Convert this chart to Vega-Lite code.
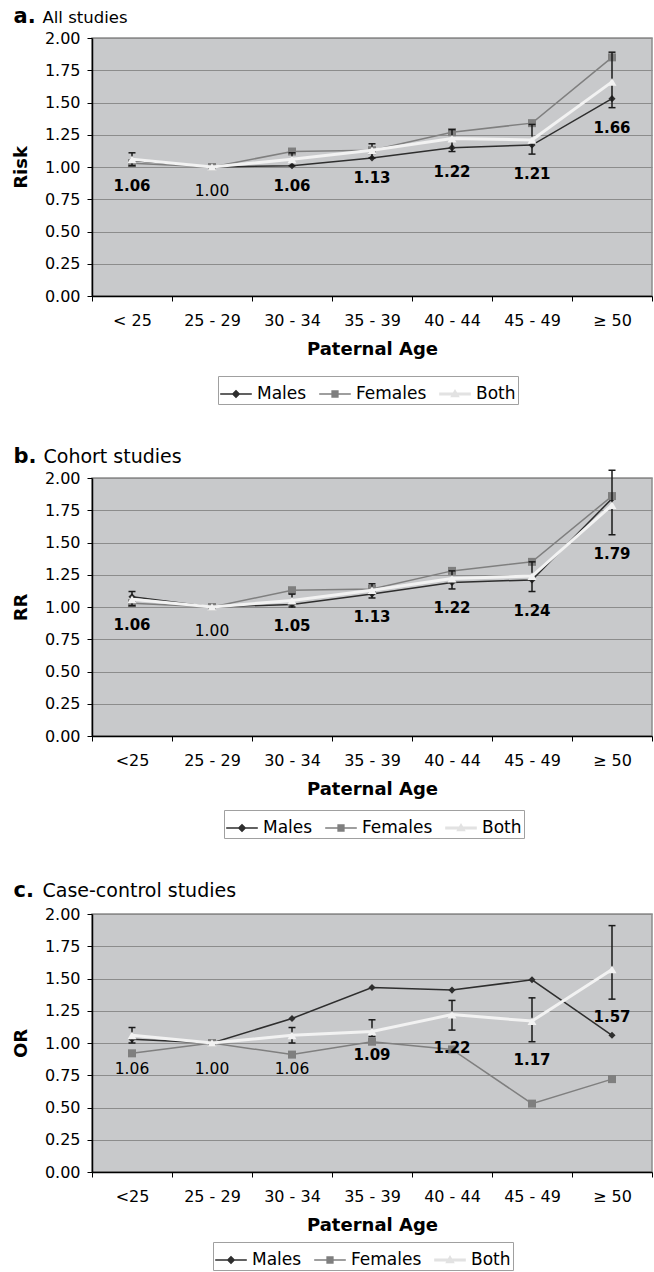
{
  "$schema": "https://vega.github.io/schema/vega-lite/v6.json",
  "padding": {"left": 11, "top": 4, "right": 2, "bottom": 0},
  "spacing": 38,
  "config": {
    "font": "DejaVu Sans",
    "view": {"fill": "#c8c9cb", "stroke": "#8c8c8c", "strokeWidth": 1.5},
    "axisX": {"tickBand": "extent", "labelAngle": 0, "labelFontSize": 16, "labelColor": "black", "tickColor": "black", "tickSize": 5, "domainColor": "black", "domainWidth": 1.5, "labelPadding": 11, "titleFontSize": 18, "titleFontWeight": "bold", "titleColor": "black", "titlePadding": 12, "grid": false},
    "axisY": {"grid": true, "gridColor": "#8c8c8c", "gridWidth": 1, "domainColor": "black", "domainWidth": 1.5, "tickColor": "black", "tickSize": 5, "labelFontSize": 16, "labelColor": "black", "labelPadding": 7, "titleFontSize": 18, "titleFontWeight": "bold", "titleColor": "black", "titlePadding": 14},
    "legend": {"direction": "horizontal", "orient": "none", "title": null, "strokeColor": "#a0a0a0", "fillColor": "white", "padding": 2, "labelFontSize": 17, "labelColor": "black", "symbolSize": 1000, "symbolStrokeWidth": 0, "symbolOpacity": 1, "columnPadding": 12, "labelOffset": 5}
  },
  "resolve": {"scale": {"shape": "independent", "fill": "independent"}, "legend": {"shape": "independent", "fill": "independent"}},
  "datasets": {
    "a": [
      {"age": "< 25", "series": "Males", "value": 1.05},
      {"age": "25 - 29", "series": "Males", "value": 1.00},
      {"age": "30 - 34", "series": "Males", "value": 1.01},
      {"age": "35 - 39", "series": "Males", "value": 1.07},
      {"age": "40 - 44", "series": "Males", "value": 1.15},
      {"age": "45 - 49", "series": "Males", "value": 1.17},
      {"age": "≥ 50", "series": "Males", "value": 1.53},
      {"age": "< 25", "series": "Females", "value": 1.03},
      {"age": "25 - 29", "series": "Females", "value": 1.00},
      {"age": "30 - 34", "series": "Females", "value": 1.12},
      {"age": "35 - 39", "series": "Females", "value": 1.13},
      {"age": "40 - 44", "series": "Females", "value": 1.27},
      {"age": "45 - 49", "series": "Females", "value": 1.34},
      {"age": "≥ 50", "series": "Females", "value": 1.85},
      {"age": "< 25", "series": "Both", "value": 1.06, "lo": 1.01, "hi": 1.11, "sig": true},
      {"age": "25 - 29", "series": "Both", "value": 1.00, "lo": 1.00, "hi": 1.00, "sig": false},
      {"age": "30 - 34", "series": "Both", "value": 1.06, "lo": 1.01, "hi": 1.11, "sig": true},
      {"age": "35 - 39", "series": "Both", "value": 1.13, "lo": 1.07, "hi": 1.18, "sig": true},
      {"age": "40 - 44", "series": "Both", "value": 1.22, "lo": 1.12, "hi": 1.29, "sig": true},
      {"age": "45 - 49", "series": "Both", "value": 1.21, "lo": 1.10, "hi": 1.33, "sig": true},
      {"age": "≥ 50", "series": "Both", "value": 1.66, "lo": 1.46, "hi": 1.89, "sig": true}
    ],
    "b": [
      {"age": "<25", "series": "Males", "value": 1.08},
      {"age": "25 - 29", "series": "Males", "value": 1.00},
      {"age": "30 - 34", "series": "Males", "value": 1.02},
      {"age": "35 - 39", "series": "Males", "value": 1.10},
      {"age": "40 - 44", "series": "Males", "value": 1.19},
      {"age": "45 - 49", "series": "Males", "value": 1.21},
      {"age": "≥ 50", "series": "Males", "value": 1.84},
      {"age": "<25", "series": "Females", "value": 1.03},
      {"age": "25 - 29", "series": "Females", "value": 1.00},
      {"age": "30 - 34", "series": "Females", "value": 1.13},
      {"age": "35 - 39", "series": "Females", "value": 1.14},
      {"age": "40 - 44", "series": "Females", "value": 1.28},
      {"age": "45 - 49", "series": "Females", "value": 1.35},
      {"age": "≥ 50", "series": "Females", "value": 1.86},
      {"age": "<25", "series": "Both", "value": 1.06, "lo": 1.01, "hi": 1.12, "sig": true},
      {"age": "25 - 29", "series": "Both", "value": 1.00, "lo": 1.00, "hi": 1.00, "sig": false},
      {"age": "30 - 34", "series": "Both", "value": 1.05, "lo": 1.00, "hi": 1.10, "sig": true},
      {"age": "35 - 39", "series": "Both", "value": 1.13, "lo": 1.07, "hi": 1.18, "sig": true},
      {"age": "40 - 44", "series": "Both", "value": 1.22, "lo": 1.14, "hi": 1.28, "sig": true},
      {"age": "45 - 49", "series": "Both", "value": 1.24, "lo": 1.12, "hi": 1.35, "sig": true},
      {"age": "≥ 50", "series": "Both", "value": 1.79, "lo": 1.56, "hi": 2.06, "sig": true}
    ],
    "c": [
      {"age": "<25", "series": "Males", "value": 1.03},
      {"age": "25 - 29", "series": "Males", "value": 1.00},
      {"age": "30 - 34", "series": "Males", "value": 1.19},
      {"age": "35 - 39", "series": "Males", "value": 1.43},
      {"age": "40 - 44", "series": "Males", "value": 1.41},
      {"age": "45 - 49", "series": "Males", "value": 1.49},
      {"age": "≥ 50", "series": "Males", "value": 1.06},
      {"age": "<25", "series": "Females", "value": 0.92},
      {"age": "25 - 29", "series": "Females", "value": 1.00},
      {"age": "30 - 34", "series": "Females", "value": 0.91},
      {"age": "35 - 39", "series": "Females", "value": 1.01},
      {"age": "40 - 44", "series": "Females", "value": 0.95},
      {"age": "45 - 49", "series": "Females", "value": 0.53},
      {"age": "≥ 50", "series": "Females", "value": 0.72},
      {"age": "<25", "series": "Both", "value": 1.06, "lo": 1.00, "hi": 1.12, "sig": false},
      {"age": "25 - 29", "series": "Both", "value": 1.00, "lo": 1.00, "hi": 1.00, "sig": false},
      {"age": "30 - 34", "series": "Both", "value": 1.06, "lo": 1.00, "hi": 1.12, "sig": false},
      {"age": "35 - 39", "series": "Both", "value": 1.09, "lo": 1.05, "hi": 1.18, "sig": true},
      {"age": "40 - 44", "series": "Both", "value": 1.22, "lo": 1.10, "hi": 1.33, "sig": true},
      {"age": "45 - 49", "series": "Both", "value": 1.17, "lo": 1.01, "hi": 1.35, "sig": true},
      {"age": "≥ 50", "series": "Both", "value": 1.57, "lo": 1.34, "hi": 1.91, "sig": true}
    ]
  },
  "vconcat": [
    {
      "width": 560, "height": 258,
      "data": {"name": "a"},
      "resolve": {"axis": {"x": "independent", "y": "independent"}},
      "layer": [
        {
          "encoding": {
            "x": {"field": "age", "type": "ordinal", "sort": ["< 25", "25 - 29", "30 - 34", "35 - 39", "40 - 44", "45 - 49", "≥ 50"], "scale": {"paddingInner": 0, "paddingOuter": 0}, "title": "Paternal Age"},
            "y": {"field": "value", "type": "quantitative", "scale": {"domain": [0, 2], "nice": false}, "title": "Risk", "axis": {"values": [0, 0.25, 0.5, 0.75, 1, 1.25, 1.5, 1.75, 2], "format": ".2f"}}
          },
          "layer": [
            {"transform": [{"filter": "datum.series == 'Males'"}], "mark": {"type": "line", "color": "#2e2e2e", "strokeWidth": 1.5, "point": {"shape": "diamond", "filled": true, "size": 50, "color": "#2e2e2e", "opacity": 1}}},
            {"transform": [{"filter": "datum.series == 'Females'"}], "mark": {"type": "line", "color": "#7f7f7f", "strokeWidth": 1.5, "point": {"shape": "square", "filled": true, "size": 64, "color": "#7f7f7f", "opacity": 1}}},
            {"transform": [{"filter": "datum.series == 'Both' && datum.hi > datum.lo"}], "mark": {"type": "rule", "color": "#1a1a1a", "strokeWidth": 1.5},
             "encoding": {"y": {"field": "lo", "type": "quantitative", "title": "Risk"}, "y2": {"field": "hi"}}},
            {"transform": [{"filter": "datum.series == 'Both' && datum.hi > datum.lo"}], "mark": {"type": "tick", "color": "#1a1a1a", "thickness": 1.5, "size": 7, "opacity": 1},
             "encoding": {"y": {"field": "lo", "type": "quantitative", "title": "Risk"}}},
            {"transform": [{"filter": "datum.series == 'Both' && datum.hi > datum.lo"}], "mark": {"type": "tick", "color": "#1a1a1a", "thickness": 1.5, "size": 7, "opacity": 1},
             "encoding": {"y": {"field": "hi", "type": "quantitative", "title": "Risk"}}},
            {"transform": [{"filter": "datum.series == 'Both'"}], "mark": {"type": "line", "color": "#f2f2f2", "strokeWidth": 3, "point": {"shape": "triangle-up", "filled": true, "size": 80, "color": "#f2f2f2", "opacity": 1}}},
            {"transform": [{"filter": "datum.series == 'Both' && datum.sig"}], "mark": {"type": "text", "dy": 20, "fontSize": 15, "fontWeight": "bold", "color": "black", "baseline": "middle"},
             "encoding": {"y": {"field": "lo", "type": "quantitative", "title": "Risk"}, "text": {"field": "value", "type": "quantitative", "format": ".2f"}}},
            {"transform": [{"filter": "datum.series == 'Both' && !datum.sig"}], "mark": {"type": "text", "dy": 24, "fontSize": 15.5, "color": "black", "baseline": "middle"},
             "encoding": {"y": {"field": "lo", "type": "quantitative", "title": "Risk"}, "text": {"field": "value", "type": "quantitative", "format": ".2f"}}}
          ]
        },
        {"transform": [{"filter": "datum.series == 'legend only'"}], "mark": {"type": "point", "filled": true, "opacity": 1},
         "encoding": {
           "x": {"field": "age", "type": "ordinal", "sort": ["< 25", "25 - 29", "30 - 34", "35 - 39", "40 - 44", "45 - 49", "≥ 50"], "axis": {"orient": "top", "title": "a.", "labels": false, "ticks": false, "domain": false, "grid": false, "titleFontSize": 21, "titleFontWeight": "bold", "titleX": -79, "titleY": -15.5, "titleAlign": "left", "titleBaseline": "alphabetic", "titleAnchor": "start"}},
           "y": {"field": "value", "type": "quantitative", "axis": {"orient": "right", "title": "All studies", "labels": false, "ticks": false, "domain": false, "grid": false, "titleAngle": 0, "titleFontSize": 16.5, "titleFontWeight": "normal", "titleX": -610, "titleY": -15.5, "titleAlign": "left", "titleBaseline": "alphabetic", "titleAnchor": "start"}},
           "shape": {"field": "series", "type": "nominal", "scale": {"domain": ["Males", "Females", "Both"], "range": ["M-1,-0.05H1V0.05H-1Z M0,-0.27L0.27,0L0,0.27L-0.27,0Z", "M-1,-0.05H1V0.05H-1Z M-0.23,-0.23H0.23V0.23H-0.23Z", "M-1,-0.1H1V0.1H-1Z M0,-0.32L0.3,0.2H-0.3Z"]}, "legend": {"legendX": 126, "legendY": 338}},
           "fill": {"field": "series", "type": "nominal", "scale": {"domain": ["Males", "Females", "Both"], "range": ["#2e2e2e", "#7f7f7f", "#e2e2e2"]}, "legend": {"legendX": 126, "legendY": 338}}
         }}
      ]
    },
    {
      "width": 560, "height": 258,
      "data": {"name": "b"},
      "resolve": {"axis": {"x": "independent", "y": "independent"}},
      "layer": [
        {
          "encoding": {
            "x": {"field": "age", "type": "ordinal", "sort": ["<25", "25 - 29", "30 - 34", "35 - 39", "40 - 44", "45 - 49", "≥ 50"], "scale": {"paddingInner": 0, "paddingOuter": 0}, "title": "Paternal Age"},
            "y": {"field": "value", "type": "quantitative", "scale": {"domain": [0, 2], "nice": false}, "title": "RR", "axis": {"values": [0, 0.25, 0.5, 0.75, 1, 1.25, 1.5, 1.75, 2], "format": ".2f"}}
          },
          "layer": [
            {"transform": [{"filter": "datum.series == 'Males'"}], "mark": {"type": "line", "color": "#2e2e2e", "strokeWidth": 1.5, "point": {"shape": "diamond", "filled": true, "size": 50, "color": "#2e2e2e", "opacity": 1}}},
            {"transform": [{"filter": "datum.series == 'Females'"}], "mark": {"type": "line", "color": "#7f7f7f", "strokeWidth": 1.5, "point": {"shape": "square", "filled": true, "size": 64, "color": "#7f7f7f", "opacity": 1}}},
            {"transform": [{"filter": "datum.series == 'Both' && datum.hi > datum.lo"}], "mark": {"type": "rule", "color": "#1a1a1a", "strokeWidth": 1.5},
             "encoding": {"y": {"field": "lo", "type": "quantitative", "title": "RR"}, "y2": {"field": "hi"}}},
            {"transform": [{"filter": "datum.series == 'Both' && datum.hi > datum.lo"}], "mark": {"type": "tick", "color": "#1a1a1a", "thickness": 1.5, "size": 7, "opacity": 1},
             "encoding": {"y": {"field": "lo", "type": "quantitative", "title": "RR"}}},
            {"transform": [{"filter": "datum.series == 'Both' && datum.hi > datum.lo"}], "mark": {"type": "tick", "color": "#1a1a1a", "thickness": 1.5, "size": 7, "opacity": 1},
             "encoding": {"y": {"field": "hi", "type": "quantitative", "title": "RR"}}},
            {"transform": [{"filter": "datum.series == 'Both'"}], "mark": {"type": "line", "color": "#f2f2f2", "strokeWidth": 3, "point": {"shape": "triangle-up", "filled": true, "size": 80, "color": "#f2f2f2", "opacity": 1}}},
            {"transform": [{"filter": "datum.series == 'Both' && datum.sig"}], "mark": {"type": "text", "dy": 19, "fontSize": 15, "fontWeight": "bold", "color": "black", "baseline": "middle"},
             "encoding": {"y": {"field": "lo", "type": "quantitative", "title": "RR"}, "text": {"field": "value", "type": "quantitative", "format": ".2f"}}},
            {"transform": [{"filter": "datum.series == 'Both' && !datum.sig"}], "mark": {"type": "text", "dy": 24, "fontSize": 15.5, "color": "black", "baseline": "middle"},
             "encoding": {"y": {"field": "lo", "type": "quantitative", "title": "RR"}, "text": {"field": "value", "type": "quantitative", "format": ".2f"}}}
          ]
        },
        {"transform": [{"filter": "datum.series == 'legend only'"}], "mark": {"type": "point", "filled": true, "opacity": 1},
         "encoding": {
           "x": {"field": "age", "type": "ordinal", "sort": ["<25", "25 - 29", "30 - 34", "35 - 39", "40 - 44", "45 - 49", "≥ 50"], "axis": {"orient": "top", "title": "b.", "labels": false, "ticks": false, "domain": false, "grid": false, "titleFontSize": 21, "titleFontWeight": "bold", "titleX": -79, "titleY": -16, "titleAlign": "left", "titleBaseline": "alphabetic", "titleAnchor": "start"}},
           "y": {"field": "value", "type": "quantitative", "axis": {"orient": "right", "title": "Cohort studies", "labels": false, "ticks": false, "domain": false, "grid": false, "titleAngle": 0, "titleFontSize": 19, "titleFontWeight": "normal", "titleX": -609, "titleY": -16, "titleAlign": "left", "titleBaseline": "alphabetic", "titleAnchor": "start"}},
           "shape": {"field": "series", "type": "nominal", "scale": {"domain": ["Males", "Females", "Both"], "range": ["M-1,-0.05H1V0.05H-1Z M0,-0.27L0.27,0L0,0.27L-0.27,0Z", "M-1,-0.05H1V0.05H-1Z M-0.23,-0.23H0.23V0.23H-0.23Z", "M-1,-0.1H1V0.1H-1Z M0,-0.32L0.3,0.2H-0.3Z"]}, "legend": {"legendX": 132, "legendY": 332}},
           "fill": {"field": "series", "type": "nominal", "scale": {"domain": ["Males", "Females", "Both"], "range": ["#2e2e2e", "#7f7f7f", "#e2e2e2"]}, "legend": {"legendX": 132, "legendY": 332}}
         }}
      ]
    },
    {
      "width": 560, "height": 258,
      "data": {"name": "c"},
      "resolve": {"axis": {"x": "independent", "y": "independent"}},
      "layer": [
        {
          "encoding": {
            "x": {"field": "age", "type": "ordinal", "sort": ["<25", "25 - 29", "30 - 34", "35 - 39", "40 - 44", "45 - 49", "≥ 50"], "scale": {"paddingInner": 0, "paddingOuter": 0}, "title": "Paternal Age"},
            "y": {"field": "value", "type": "quantitative", "scale": {"domain": [0, 2], "nice": false}, "title": "OR", "axis": {"values": [0, 0.25, 0.5, 0.75, 1, 1.25, 1.5, 1.75, 2], "format": ".2f"}}
          },
          "layer": [
            {"transform": [{"filter": "datum.series == 'Males'"}], "mark": {"type": "line", "color": "#2e2e2e", "strokeWidth": 1.5, "point": {"shape": "diamond", "filled": true, "size": 50, "color": "#2e2e2e", "opacity": 1}}},
            {"transform": [{"filter": "datum.series == 'Females'"}], "mark": {"type": "line", "color": "#7f7f7f", "strokeWidth": 1.5, "point": {"shape": "square", "filled": true, "size": 64, "color": "#7f7f7f", "opacity": 1}}},
            {"transform": [{"filter": "datum.series == 'Both' && datum.hi > datum.lo"}], "mark": {"type": "rule", "color": "#1a1a1a", "strokeWidth": 1.5},
             "encoding": {"y": {"field": "lo", "type": "quantitative", "title": "OR"}, "y2": {"field": "hi"}}},
            {"transform": [{"filter": "datum.series == 'Both' && datum.hi > datum.lo"}], "mark": {"type": "tick", "color": "#1a1a1a", "thickness": 1.5, "size": 7, "opacity": 1},
             "encoding": {"y": {"field": "lo", "type": "quantitative", "title": "OR"}}},
            {"transform": [{"filter": "datum.series == 'Both' && datum.hi > datum.lo"}], "mark": {"type": "tick", "color": "#1a1a1a", "thickness": 1.5, "size": 7, "opacity": 1},
             "encoding": {"y": {"field": "hi", "type": "quantitative", "title": "OR"}}},
            {"transform": [{"filter": "datum.series == 'Both'"}], "mark": {"type": "line", "color": "#f2f2f2", "strokeWidth": 3, "point": {"shape": "triangle-up", "filled": true, "size": 80, "color": "#f2f2f2", "opacity": 1}}},
            {"transform": [{"filter": "datum.series == 'Both' && datum.sig"}], "mark": {"type": "text", "dy": 18, "fontSize": 15, "fontWeight": "bold", "color": "black", "baseline": "middle"},
             "encoding": {"y": {"field": "lo", "type": "quantitative", "title": "OR"}, "text": {"field": "value", "type": "quantitative", "format": ".2f"}}},
            {"transform": [{"filter": "datum.series == 'Both' && !datum.sig"}], "mark": {"type": "text", "dy": 26, "fontSize": 15.5, "color": "black", "baseline": "middle"},
             "encoding": {"y": {"field": "lo", "type": "quantitative", "title": "OR"}, "text": {"field": "value", "type": "quantitative", "format": ".2f"}}}
          ]
        },
        {"transform": [{"filter": "datum.series == 'legend only'"}], "mark": {"type": "point", "filled": true, "opacity": 1},
         "encoding": {
           "x": {"field": "age", "type": "ordinal", "sort": ["<25", "25 - 29", "30 - 34", "35 - 39", "40 - 44", "45 - 49", "≥ 50"], "axis": {"orient": "top", "title": "c.", "labels": false, "ticks": false, "domain": false, "grid": false, "titleFontSize": 21, "titleFontWeight": "bold", "titleX": -79, "titleY": -18, "titleAlign": "left", "titleBaseline": "alphabetic", "titleAnchor": "start"}},
           "y": {"field": "value", "type": "quantitative", "axis": {"orient": "right", "title": "Case-control studies", "labels": false, "ticks": false, "domain": false, "grid": false, "titleAngle": 0, "titleFontSize": 19, "titleFontWeight": "normal", "titleX": -610, "titleY": -18, "titleAlign": "left", "titleBaseline": "alphabetic", "titleAnchor": "start"}},
           "shape": {"field": "series", "type": "nominal", "scale": {"domain": ["Males", "Females", "Both"], "range": ["M-1,-0.05H1V0.05H-1Z M0,-0.27L0.27,0L0,0.27L-0.27,0Z", "M-1,-0.05H1V0.05H-1Z M-0.23,-0.23H0.23V0.23H-0.23Z", "M-1,-0.1H1V0.1H-1Z M0,-0.32L0.3,0.2H-0.3Z"]}, "legend": {"legendX": 121, "legendY": 328}},
           "fill": {"field": "series", "type": "nominal", "scale": {"domain": ["Males", "Females", "Both"], "range": ["#2e2e2e", "#7f7f7f", "#e2e2e2"]}, "legend": {"legendX": 121, "legendY": 328}}
         }}
      ]
    }
  ]
}
